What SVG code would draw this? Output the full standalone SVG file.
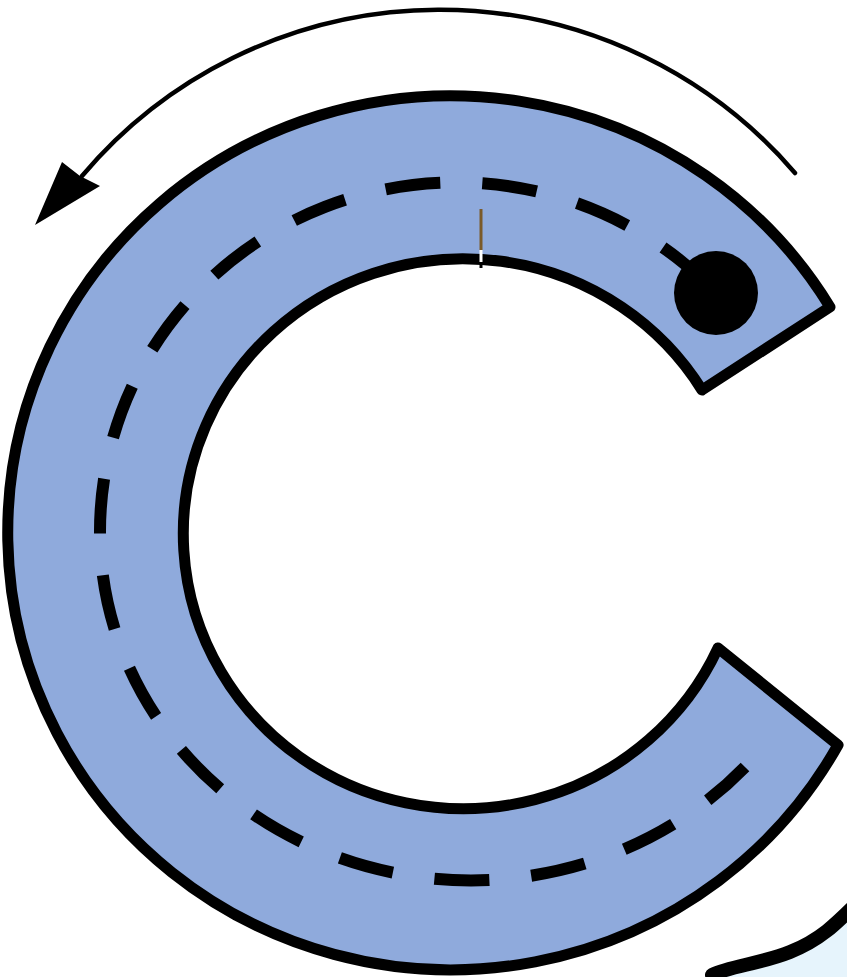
<svg xmlns="http://www.w3.org/2000/svg" width="847" height="977" viewBox="0 0 847 977">
<style>
.ink{stroke:#000;fill:none}
</style>
<rect width="847" height="977" fill="#fff"/>
<g id="blob">
<path d="M712 975 C730 966 760 964 790 952 S835 925 860 900 L860 990 L712 990 Z" fill="#e6f4fc"/>
<path class="ink" d="M712 975 C730 966 760 964 790 952 S835 925 860 900" stroke-width="14" stroke-linecap="round"/>
</g>
<g id="track">
<path d="M830 307 A443 437 0 1 0 838 745 L718 648 A280 275 0 1 1 702 390 Z" fill="#8faadc" stroke="#000" stroke-width="11" stroke-linejoin="round"/>
</g>
<g id="centerline">
<path class="ink" d="M716 293 A356 349 0 0 0 100 532 A371 348 0 0 0 745 767" stroke-width="12" stroke-dasharray="55 42" stroke-dashoffset="82"/>
</g>
<g id="dot">
<circle cx="716" cy="293" r="42" fill="#000"/>
</g>
<g id="tick">
<line x1="481" y1="209" x2="481" y2="250" stroke="#7a5a2a" stroke-width="3"/>
<line x1="481" y1="250" x2="481" y2="262" stroke="#fff" stroke-width="3"/>
<line x1="481" y1="262" x2="481" y2="268" stroke="#000" stroke-width="3"/>
</g>
<g id="connectors">
<path class="ink" d="M795 173 A468 468 0 0 0 82 176" stroke-width="4.5" stroke-linecap="round"/>
<polygon points="35,225 62,162 80,176 100,186" fill="#000"/>
</g>
</svg>
